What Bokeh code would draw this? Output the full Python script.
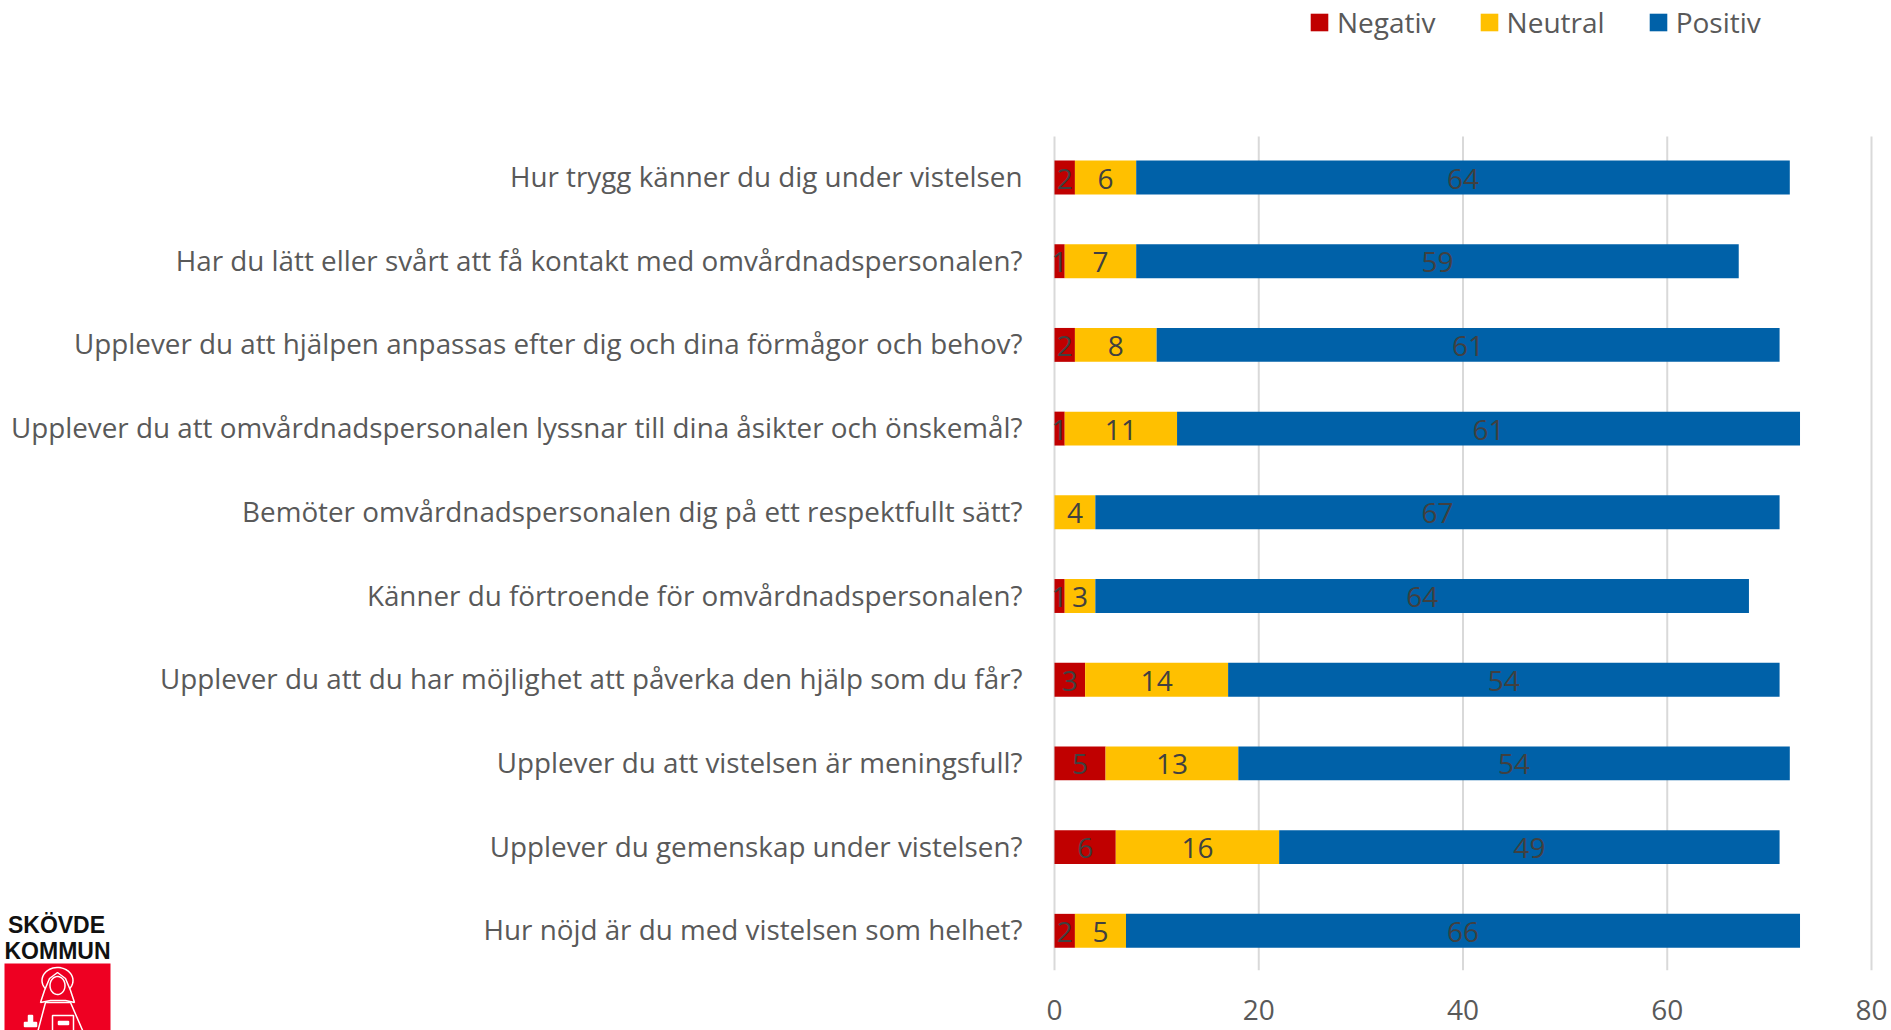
import numpy as np
from bokeh.plotting import figure
from bokeh.embed import file_html
from bokeh.resources import INLINE
from bokeh.models import (ColumnDataSource, Range1d, Legend, LegendItem, LinearAxis, FixedTicker)
from bokeh.core.properties import value

categories = [
    "Hur trygg känner du dig under vistelsen",
    "Har du lätt eller svårt att få kontakt med omvårdnadspersonalen?",
    "Upplever du att hjälpen anpassas efter dig och dina förmågor och behov?",
    "Upplever du att omvårdnadspersonalen lyssnar till dina åsikter och önskemål?",
    "Bemöter omvårdnadspersonalen dig på ett respektfullt sätt?",
    "Känner du förtroende för omvårdnadspersonalen?",
    "Upplever du att du har möjlighet att påverka den hjälp som du får?",
    "Upplever du att vistelsen är meningsfull?",
    "Upplever du gemenskap under vistelsen?",
    "Hur nöjd är du med vistelsen som helhet?",
]
negativ = [2, 1, 2, 1, 0, 1, 3, 5, 6, 2]
neutral = [6, 7, 8, 11, 4, 3, 14, 13, 16, 5]
positiv = [64, 59, 61, 61, 67, 64, 54, 54, 49, 66]
series_names = ["Negativ", "Neutral", "Positiv"]
series_colors = ["#C00000", "#FFC000", "#0061A8"]
x_ticks = [0, 20, 40, 60, 80]

FONT = "Open Sans"
W, H = 1891, 1030
X0, XS = 1054.0, 10.2125      # page px of value 0, px per unit
Y0, YS = 177.0, 83.7          # page px of first row, px per row
px = lambda v: (np.asarray(v, float) - X0) / XS
py = lambda v: (np.asarray(v, float) - Y0) / YS

p = figure(width=W, height=H, output_backend="svg", toolbar_location=None,
           x_axis_location=None, y_axis_location=None,
           x_range=Range1d(float(px(0)), float(px(W))), y_range=Range1d(float(py(H)), float(py(0))),
           min_border=0)
# same scale as the main one, raised 1.5 px, for the question labels only
p.extra_y_ranges = {"labels": Range1d(float(py(H + 1.5)), float(py(1.5)))}
p.outline_line_color = None
p.background_fill_color = "white"
p.border_fill_color = "white"
p.grid.visible = False

rows = list(range(len(categories)))
p.segment(x0=x_ticks, x1=x_ticks, y0=[-0.49] * 5, y1=[9.47] * 5, line_color="#D9D9D9", line_width=2)

src = ColumnDataSource(dict(row=rows, Negativ=negativ, Neutral=neutral, Positiv=positiv))
r = p.hbar_stack(series_names, y="row", height=0.405, color=series_colors, source=src, line_width=0)

n, m, q = np.array(negativ), np.array(neutral), np.array(positiv)
starts = [np.zeros(10), n, n + m]
for vals, st in zip([n, m, q], starts):
    keep = vals > 0
    ls = ColumnDataSource(dict(
        y=np.array(rows)[keep].tolist(),
        x=(st + vals / 2)[keep].tolist(),
        t=[str(v) for v in vals[keep]],
    ))
    p.text(x="x", y="y", text="t", source=ls, text_align="center", text_baseline="middle",
           text_font=value(FONT), text_font_size="28px", text_color="#404040", y_offset=1)

xax = LinearAxis(fixed_location=9.47, ticker=FixedTicker(ticks=x_ticks))
xax.axis_line_color = None
xax.major_tick_line_color = None
xax.minor_tick_line_color = None
xax.major_label_text_font = FONT
xax.major_label_text_font_size = "28px"
xax.major_label_text_color = "#595959"
xax.major_label_standoff = 24
p.add_layout(xax, "below")

yax = LinearAxis(fixed_location=0, y_range_name="labels", ticker=FixedTicker(ticks=rows),
                 major_label_overrides={i: c for i, c in enumerate(categories)})
yax.axis_line_color = None
yax.major_tick_line_color = None
yax.minor_tick_line_color = None
yax.major_label_text_font = FONT
yax.major_label_text_font_size = "27.8px"
yax.major_label_text_color = "#595959"
yax.major_label_standoff = 26
p.add_layout(yax, "left")

legend = Legend(items=[LegendItem(label=s, renderers=[g]) for s, g in zip(series_names, r)],
                orientation="horizontal", location=(1308, 989), border_line_color=None,
                background_fill_alpha=0, glyph_width=22, glyph_height=22, label_standoff=7,
                spacing=42, padding=0, margin=0, label_text_font=FONT, label_text_font_size="28px",
                label_text_color="#595959")
p.add_layout(legend, "center")

# municipal logo
RED = "#EE0022"
def patch(xs, ys, fill=RED, line="white", lw=1.5):
    p.patch(px(xs).tolist(), py(ys).tolist(), fill_color=fill, line_color=line, line_width=lw)

patch([4, 110, 110, 4], [963, 963, 1030, 1030], line=None, lw=0)
p.text(x=px([56, 57]).tolist(), y=py([924, 950]).tolist(), text=["SKÖVDE", "KOMMUN"],
       text_align="center", text_baseline="middle", text_font=value("Liberation Sans"),
       text_font_style="bold", text_font_size="23px", text_color="#111111")
t = np.linspace(0, 2 * np.pi, 48)
patch(57 + 15.5 * np.cos(t), 980 + 13 * np.sin(t))                       # halo
patch([37, 45, 70, 83, 83, 37], [1032, 1002, 1002, 1032, 1032, 1032])    # robe
patch([57, 49, 44, 40, 50, 65, 74, 70, 65], [972, 978, 990, 1002, 1000, 1000, 1002, 990, 978])  # veil
patch(57 + 7.5 * np.cos(t), 985 + 9 * np.sin(t))                         # face
patch([52, 73, 73, 52], [1015, 1015, 1032, 1032])                        # book
patch([58, 68, 68, 58], [1021, 1021, 1024, 1024], fill="white")          # book clasp
patch([24, 36, 36, 24], [1022, 1022, 1026, 1026], fill="white")          # chalice
patch([28, 32, 32, 28], [1015, 1015, 1022, 1022], fill="white")

open("out.html", "w").write(file_html(p, INLINE))
